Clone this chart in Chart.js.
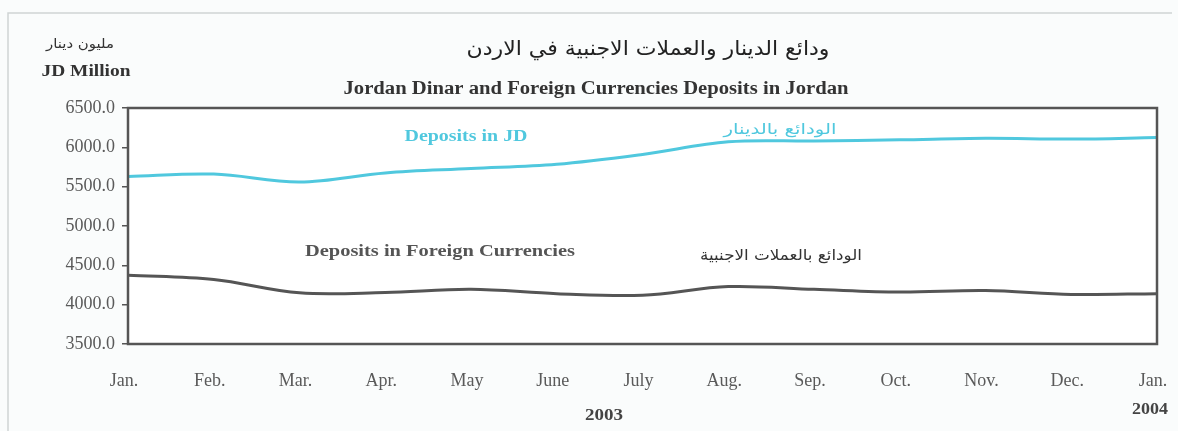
<!DOCTYPE html>
<html>
<head>
<meta charset="utf-8">
<script src="https://cdn.jsdelivr.net/npm/chart.js@4"></script>
<style>
  body { margin: 0; background: #fafcfc; }
</style>
</head>
<body>
<canvas id="chart1" width="1178" height="431"></canvas>
<script>
const months = ['Jan.', 'Feb.', 'Mar.', 'Apr.', 'May', 'June', 'July', 'Aug.', 'Sep.', 'Oct.', 'Nov.', 'Dec.', 'Jan.'];
const depositsJD = [5630, 5660, 5560, 5675, 5730, 5785, 5910, 6070, 6080, 6095, 6115, 6105, 6125];
const depositsForeign = [4375, 4320, 4150, 4155, 4195, 4140, 4120, 4230, 4195, 4160, 4180, 4130, 4140];
const yMin = 3500;
const yMax = 6500;
const yStep = 500;

const serif = "'Liberation Serif', 'Times New Roman', serif";
const arabic = "'DejaVu Sans', sans-serif";
const cyan = 'rgb(80, 200, 222)';
const grey = 'rgb(85, 85, 85)';

// draw a text centred at x,y, stretched sideways to a given width (the scan is wider than tall)
function txt(ctx, s, x, y, font, color, w) {
    ctx.save();
    ctx.font = font;
    ctx.fillStyle = color;
    ctx.textAlign = 'center';
    ctx.textBaseline = 'middle';
    const k = w ? w / ctx.measureText(s).width : 1;
    ctx.translate(x, y);
    ctx.scale(k, 1);
    ctx.fillText(s, 0, 0);
    ctx.restore();
}

const decorations = {
    id: 'decorations',
    beforeDraw(chart) {
        const ctx = chart.ctx;
        const a = chart.chartArea;
        ctx.save();
        ctx.fillStyle = '#fafcfc';
        ctx.fillRect(0, 0, chart.width, chart.height);
        ctx.fillStyle = '#ffffff';
        ctx.fillRect(a.left, a.top, a.right - a.left, a.bottom - a.top);
        ctx.strokeStyle = '#d0d4d4';
        ctx.lineWidth = 1.5;
        ctx.beginPath();
        ctx.moveTo(8, 431);
        ctx.lineTo(8, 13);
        ctx.lineTo(1172, 13);
        ctx.stroke();
        ctx.restore();
    },
    afterDatasetsDraw(chart) {
        const ctx = chart.ctx;
        const a = chart.chartArea;
        ctx.save();
        ctx.strokeStyle = grey;
        ctx.lineWidth = 2.5;
        ctx.strokeRect(a.left, a.top, a.right - a.left, a.bottom - a.top);
        ctx.restore();
    },
    afterDraw(chart) {
        const ctx = chart.ctx;
        txt(ctx, 'مليون دينار', 80, 45, '13px ' + arabic, '#333', 68);
        txt(ctx, 'JD Million', 86, 72, 'bold 17px ' + serif, '#333', 89);
        txt(ctx, 'ودائع الدينار والعملات الاجنبية في الاردن', 648, 50, '20px ' + arabic, '#222', 363);
        txt(ctx, 'Jordan Dinar and Foreign Currencies Deposits in Jordan', 596, 89, 'bold 18px ' + serif, '#333', 505);
        txt(ctx, 'Deposits in JD', 466, 137, 'bold 17px ' + serif, cyan, 123);
        txt(ctx, 'الودائع بالدينار', 780, 130, '15px ' + arabic, cyan, 113);
        txt(ctx, 'Deposits in Foreign Currencies', 440, 252, 'bold 17px ' + serif, '#555', 270);
        txt(ctx, 'الودائع بالعملات الاجنبية', 781, 256, '15px ' + arabic, '#333', 162);
        txt(ctx, '2003', 604, 416, 'bold 16px ' + serif, '#444', 38);
        txt(ctx, '2004', 1150, 410, 'bold 16px ' + serif, '#444', 36);
    }
};

const data1 = {
    labels: months,
    datasets: [
        {
            label: 'Deposits in JD',
            data: depositsJD,
            borderColor: cyan,
            borderWidth: 3,
            pointRadius: 0,
            tension: 0.35
        },
        {
            label: 'Deposits in Foreign Currencies',
            data: depositsForeign,
            borderColor: grey,
            borderWidth: 3,
            pointRadius: 0,
            tension: 0.35
        }
    ]
};

const config1 = {
    type: 'line',
    data: data1,
    options: {
        responsive: false,
        animation: false,
        layout: { padding: { left: 0, top: 108, right: 21, bottom: 0 } },
        plugins: {
            legend: { display: false },
            title: { display: false },
            tooltip: { enabled: false }
        },
        scales: {
            x: {
                offset: false,
                border: { display: false },
                grid: { display: false, drawTicks: false },
                ticks: {
                    padding: 26,
                    labelOffset: -4,
                    maxRotation: 0,
                    autoSkip: false,
                    color: '#5a5a5a',
                    font: { family: serif, size: 18 }
                },
                afterFit(scale) {
                    scale.height = 87;
                    scale.paddingLeft = 0;
                    scale.paddingRight = 0;
                }
            },
            y: {
                min: yMin,
                max: yMax,
                border: { display: false },
                grid: { drawOnChartArea: false, tickLength: 6, tickColor: grey, lineWidth: 1.5 },
                ticks: {
                    stepSize: yStep,
                    padding: 7,
                    color: '#5a5a5a',
                    font: { family: serif, size: 18 },
                    callback: v => v.toFixed(1)
                },
                afterFit(scale) {
                    scale.width = 128;
                    scale.paddingTop = 0;
                    scale.paddingBottom = 0;
                }
            }
        }
    },
    plugins: [decorations]
};

const myChart1 = new Chart(document.getElementById('chart1').getContext('2d'), config1);
</script>
</body>
</html>
